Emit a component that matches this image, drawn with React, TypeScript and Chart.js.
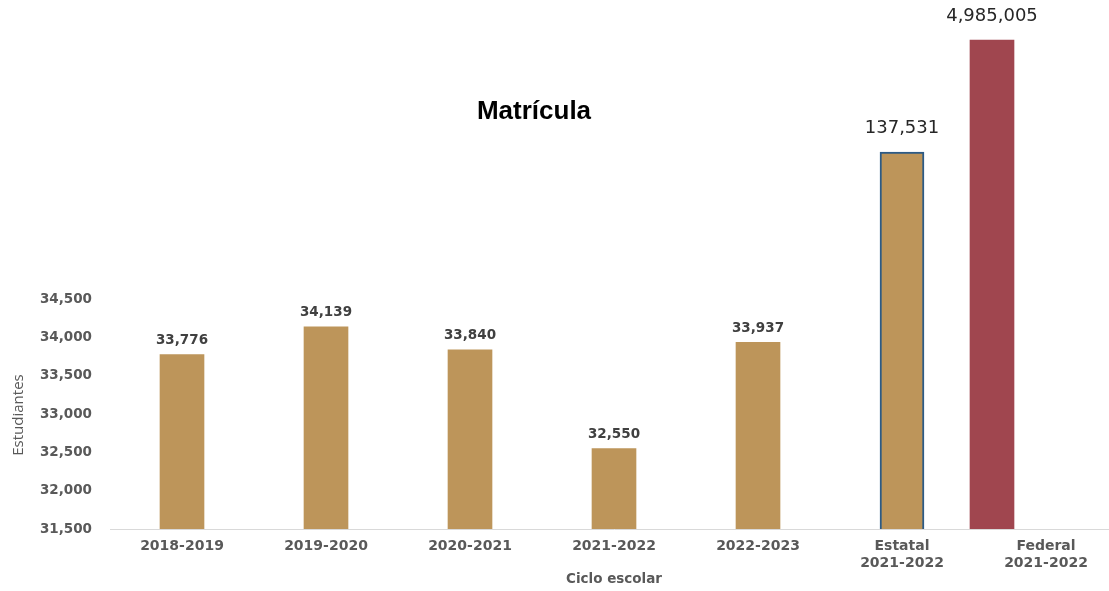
import React, { useEffect, useRef } from "react";
import { Chart, registerables } from "chart.js";

Chart.register(...registerables);

// ---- Data ----
const categories: (string | string[])[] = [
  "2018-2019",
  "2019-2020",
  "2020-2021",
  "2021-2022",
  "2022-2023",
  ["Estatal", "2021-2022"],
  ["Federal", "2021-2022"],
];
const matricula = [33776, 34139, 33840, 32550, 33937];
const estatalValue = 137531;
const federalValue = 4985005;
// The original chart breaks its axis for the two reference bars; these are the
// heights at which they are drawn on the 31,500–34,500 scale.
const estatalDrawnHeight = 36420;
const federalDrawnHeight = 37880;
const yTicks = [31500, 32000, 32500, 33000, 33500, 34000, 34500];
const federalSlots = ["", "", "", "Federal"];

const GOLD = "#BD955A";
const RED = "#A0464F";
const BLUE = "#2C5A85";
const GRAY = "#595959";

const fmt = (v: number) => v.toLocaleString("en-US");

export default function App() {
  const ref = useRef<HTMLCanvasElement | null>(null);

  useEffect(() => {
    document.documentElement.style.overflow = "hidden";
    document.body.style.margin = "0";
    document.body.style.overflow = "hidden";
    if (!ref.current) return;

    const goldData = [...matricula, estatalDrawnHeight, null];
    const goldLabels = [...matricula.map(fmt), fmt(estatalValue), ""];
    const redData = [null, null, null, federalDrawnHeight];
    const redLabels = ["", "", "", fmt(federalValue)];

    const labelsPlugin = {
      id: "barLabels",
      afterDatasetsDraw(chart: any) {
        const ctx = chart.ctx;
        ctx.save();
        ctx.textAlign = "center";
        ctx.textBaseline = "middle";
        chart.data.datasets.forEach((ds: any, di: number) => {
          const meta = chart.getDatasetMeta(di);
          meta.data.forEach((el: any, i: number) => {
            const txt = ds.valueLabels[i];
            if (!txt || ds.data[i] == null) return;
            const big = di === 1 || i === 5;
            if (big) {
              ctx.font = "18px 'DejaVu Sans'";
              ctx.fillStyle = "#262626";
              ctx.fillText(txt, el.x, el.y - 24);
            } else {
              ctx.font = "bold 13.5px 'DejaVu Sans'";
              ctx.fillStyle = "#404040";
              ctx.fillText(txt, el.x, el.y - 14);
            }
          });
        });
        ctx.restore();
      },
    };

    const textPlugin = {
      id: "extraText",
      afterDraw(chart: any) {
        const ctx = chart.ctx;
        ctx.save();
        ctx.font = "bold 26px 'Liberation Sans', Arial, sans-serif";
        ctx.fillStyle = "#000000";
        ctx.textAlign = "center";
        ctx.textBaseline = "middle";
        ctx.fillText("Matrícula", 534, 112);
        ctx.restore();

        ctx.save();
        ctx.translate(19, 415);
        ctx.rotate(-Math.PI / 2);
        ctx.font = "15px 'Liberation Sans Narrow', 'Open Sans', sans-serif";
        ctx.fillStyle = GRAY;
        ctx.textAlign = "center";
        ctx.textBaseline = "middle";
        ctx.fillText("Estudiantes", 0, 0);
        ctx.restore();
      },
    };

    const chart = new Chart(ref.current, {
      type: "bar",
      data: {
        labels: categories as any,
        datasets: [
          {
            label: "Matrícula",
            data: goldData as any,
            valueLabels: goldLabels,
            xAxisID: "x",
            yAxisID: "y",
            grouped: false,
            backgroundColor: GOLD,
            borderColor: goldData.map((_, i) => (i === 5 ? BLUE : GOLD)),
            borderWidth: goldData.map((_, i) => (i === 5 ? 2 : 0)),
            barThickness: 44,
          } as any,
          {
            label: "Federal",
            data: redData as any,
            valueLabels: redLabels,
            xAxisID: "x2",
            yAxisID: "y",
            grouped: false,
            backgroundColor: RED,
            borderWidth: 0,
            barThickness: 44,
          } as any,
        ],
      },
      options: {
        responsive: false,
        animation: false,
        layout: { padding: { top: 31, right: 0, left: 0, bottom: 0 } },
        plugins: {
          legend: { display: false },
          tooltip: { enabled: false },
        },
        scales: {
          x: {
            type: "category",
            grid: { display: false, drawTicks: false },
            border: { display: true, color: "#D9D9D9", width: 1 },
            ticks: {
              color: GRAY,
              padding: 9,
              maxRotation: 0,
              autoSkip: false,
              font: { family: "'DejaVu Sans'", size: 14, weight: "bold" },
            },
            title: {
              display: true,
              text: "Ciclo escolar",
              color: GRAY,
              padding: { top: 0, bottom: 3 },
              font: { family: "'DejaVu Sans'", size: 13.5, weight: "bold" },
            },
            afterFit(scale: any) {
              scale.height = 62;
            },
          },
          x2: {
            type: "category",
            labels: federalSlots,
            display: false,
          },
          y: {
            min: 31500,
            max: 38000,
            grid: { display: false, drawTicks: false },
            border: { display: false },
            afterBuildTicks(scale: any) {
              scale.ticks = yTicks.map((v) => ({ value: v }));
            },
            ticks: {
              color: GRAY,
              padding: 18,
              callback: (v: any) => fmt(Number(v)),
              font: { family: "'DejaVu Sans'", size: 13.5, weight: "bold" },
            },
            afterFit(scale: any) {
              scale.width = 110;
            },
          },
        },
      } as any,
      plugins: [labelsPlugin, textPlugin],
    });

    return () => chart.destroy();
  }, []);

  return (
    <div style={{ width: 1118, height: 591 }}>
      <canvas ref={ref} width={1118} height={591} />
    </div>
  );
}
